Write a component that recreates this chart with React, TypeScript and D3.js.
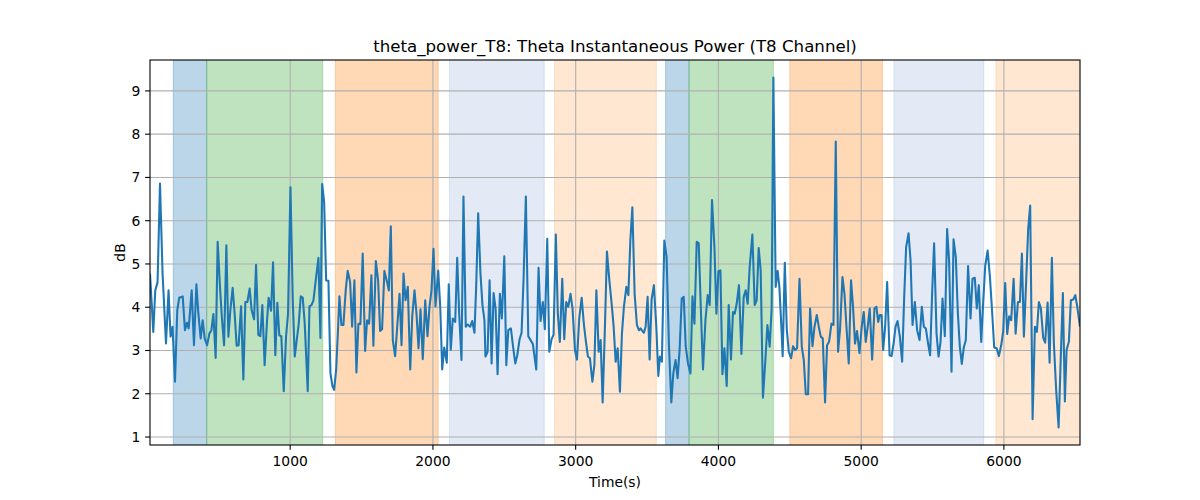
import React from 'react';
import * as d3 from 'd3';

// [time (s), power (dB)]
const samples: [number, number][] = [
  [18,4.78],[41,3.43],[55,4.39],[71,4.58],[88,6.86],[106,4.78],[130,3.16],[148,4.39],[162,3.32],[176,3.55],
  [193,2.28],[209,3.93],[223,4.22],[247,4.25],[263,3.47],[277,3.64],[289,3.51],[310,4.39],[326,3.12],[343,4.53],
  [357,3.85],[373,3.28],[387,3.70],[401,3.28],[418,3.12],[434,3.39],[448,3.47],[462,3.84],[478,2.83],[492,5.51],
  [511,4.31],[523,3.70],[537,3.12],[553,5.43],[567,3.32],[581,3.93],[597,4.45],[611,3.85],[625,3.11],[639,3.12],
  [656,4.02],[672,2.33],[686,4.12],[700,4.12],[716,4.43],[730,3.93],[747,3.72],[761,4.98],[777,3.36],[791,3.33],
  [805,4.05],[821,2.66],[838,3.70],[849,4.22],
  [866,3.92],[880,5.04],[896,2.89],[910,4.10],[924,3.35],[938,3.33],[955,2.06],[971,3.32],[985,3.85],[1002,6.77],
  [1018,4.16],[1032,2.86],[1046,3.24],[1060,3.62],[1074,4.25],[1088,4.22],[1102,3.62],[1123,2.06],[1135,4.02],[1149,4.05],
  [1163,4.16],[1182,4.70],[1198,5.14],[1212,3.29],[1224,6.85],[1238,6.43],[1252,4.62],[1268,4.61],[1282,2.47],[1296,2.18],
  [1308,2.09],[1322,2.55],[1336,3.55],[1345,4.25],[1359,3.59],[1373,3.59],[1389,4.39],[1403,4.84],[1420,4.58],[1434,3.55],
  [1450,4.62],[1464,2.49],[1478,3.62],[1492,3.61],[1508,5.24],[1525,2.99],[1539,3.70],[1553,3.62],[1569,4.74],[1583,3.11],
  [1600,5.07],[1616,4.62],[1630,3.45],[1644,3.49],[1660,4.84],[1679,4.58],[1691,4.39],
  [1705,5.87],[1719,3.24],[1735,2.87],[1750,3.55],[1766,4.31],[1780,3.12],[1794,4.78],[1808,4.16],[1824,4.47],[1841,2.56],
  [1855,3.78],[1871,4.39],[1885,3.85],[1899,3.05],[1913,3.95],[1929,2.80],[1946,4.16],[1962,3.33],[1976,4.01],[1990,4.39],
  [2004,5.35],[2018,4.02],[2037,4.85],[2051,4.02],[2065,2.56],[2079,3.07],[2097,2.72],[2111,4.53],[2125,3.02],[2139,3.74],
  [2156,3.66],[2170,5.14],[2184,3.85],[2200,2.78],[2214,6.56],[2230,3.55],[2244,3.60],[2261,3.55],[2275,3.68],[2291,3.41],
  [2303,4.47],[2317,6.17],[2333,4.78],[2347,4.05],[2361,3.70],[2368,2.86],[2383,2.97],[2397,4.62],[2411,2.70],[2425,4.33],
  [2439,3.97],[2453,2.45],[2469,4.31],[2483,3.74],[2500,5.18],[2514,2.66],[2528,3.47],
  [2546,3.51],[2563,3.05],[2577,2.70],[2591,2.89],[2607,3.26],[2621,3.41],[2635,4.66],[2651,6.56],[2668,3.33],[2684,3.24],
  [2700,3.15],[2724,2.56],[2740,4.91],[2754,3.68],[2770,4.12],[2784,3.49],[2801,5.58],[2815,2.97],[2831,3.26],[2845,3.36],
  [2861,5.68],[2875,3.85],[2889,3.20],[2906,4.66],[2920,3.26],[2934,4.12],[2948,4.01],[2964,4.31],[2978,3.97],[2995,3.01],
  [3009,2.79],[3025,3.74],[3042,4.22],[3058,3.59],[3072,3.20],[3086,2.86],[3100,2.82],[3117,2.28],[3131,2.66],[3145,4.39],
  [3161,2.97],[3175,3.24],[3189,1.80],[3205,3.55],[3219,5.29],[3236,4.62],[3252,4.08],[3266,3.55],[3280,2.74],[3294,3.05],
  [3310,2.05],[3324,3.39],[3338,4.01],[3355,4.47],[3369,4.28],
  [3383,5.54],[3397,6.31],[3413,4.31],[3429,3.59],[3443,3.47],[3455,3.51],[3467,3.45],[3478,3.41],[3490,3.55],[3504,4.24],
  [3518,2.79],[3532,4.18],[3548,4.51],[3565,3.55],[3579,2.41],[3590,2.86],[3604,2.74],[3621,5.54],[3637,5.16],[3653,3.16],
  [3670,1.80],[3684,2.47],[3700,2.78],[3714,2.36],[3728,3.01],[3743,4.20],[3757,4.24],[3771,3.09],[3787,2.70],[3804,2.47],
  [3818,4.25],[3832,3.62],[3848,5.51],[3862,5.48],[3878,3.85],[3892,2.56],[3909,3.70],[3925,4.28],[3939,4.05],[3955,6.48],
  [3972,5.39],[3986,3.85],[4000,4.83],[4014,4.85],[4028,2.45],[4042,3.05],[4058,2.18],[4072,4.05],[4088,2.79],[4102,3.89],
  [4114,3.85],[4128,4.08],[4144,4.51],[4161,2.92],[4177,4.24],[4191,4.39],[4205,4.08],[4219,4.93],
  [4238,5.68],[4254,4.05],[4268,4.16],[4282,5.37],[4296,4.85],[4312,1.91],[4329,2.78],[4343,3.59],[4359,3.09],[4373,3.97],
  [4385,9.31],[4401,4.47],[4415,4.84],[4427,4.47],[4441,3.55],[4450,2.87],[4465,5.03],[4479,3.49],[4493,2.97],[4509,2.82],
  [4523,3.10],[4537,3.01],[4551,3.05],[4568,4.66],[4584,3.09],[4598,2.78],[4612,1.99],[4628,1.99],[4642,3.97],[4659,3.10],
  [4673,3.55],[4689,3.82],[4703,3.55],[4717,3.32],[4731,3.28],[4747,1.80],[4761,3.12],[4775,3.20],[4792,3.62],[4806,3.59],
  [4822,7.83],[4838,2.97],[4852,3.49],[4869,4.70],[4883,4.31],[4897,3.55],[4913,2.70],[4929,4.62],[4943,4.01],[4957,3.16],
  [4971,3.45],[4988,2.94],[5004,3.55],[5018,3.89],[5032,3.20],[5046,3.55],[5060,3.97],
  [5077,2.79],[5093,3.97],[5107,4.01],[5119,3.66],[5131,3.82],[5143,3.82],[5154,3.01],[5168,3.55],[5182,4.58],[5199,2.89],
  [5213,2.87],[5227,3.16],[5241,3.55],[5255,3.68],[5271,3.32],[5287,2.74],[5301,4.20],[5315,5.39],[5332,5.71],[5346,5.08],
  [5360,3.59],[5376,4.12],[5392,3.47],[5409,3.24],[5425,4.01],[5439,3.55],[5453,3.51],[5467,3.20],[5483,2.89],[5497,4.31],
  [5511,5.48],[5528,3.39],[5542,2.86],[5556,3.20],[5570,4.20],[5586,3.33],[5602,5.81],[5616,5.08],[5633,2.51],[5647,5.57],
  [5663,5.16],[5677,3.89],[5691,3.09],[5705,2.69],[5719,3.07],[5733,3.24],[5749,4.95],[5766,3.74],[5780,4.66],[5796,4.68],
  [5810,3.97],[5824,4.51],[5841,3.20],[5855,4.12],[5869,4.96],[5886,5.31],[5902,4.70],
  [5916,3.97],[5932,3.07],[5949,3.05],[5965,2.87],[5981,3.12],[5995,3.45],[6009,4.56],[6023,3.38],[6037,3.79],[6051,3.70],
  [6068,4.66],[6082,3.39],[6098,4.12],[6112,4.12],[6126,5.24],[6140,3.32],[6156,4.62],[6170,5.81],[6184,6.35],[6201,1.41],
  [6217,3.55],[6231,3.43],[6245,4.12],[6259,3.97],[6275,3.30],[6289,3.18],[6306,4.11],[6320,2.72],[6336,5.14],[6350,3.16],
  [6366,2.09],[6383,1.22],[6397,2.70],[6413,4.33],[6427,1.82],[6439,3.01],[6455,3.20],[6469,4.16],[6486,4.18],[6500,4.28],
  [6514,4.01],[6533,3.55],
];

// shaded intervals
const spanStarts = [181, 415, 1317, 2116, 2852, 3630, 3794, 4500, 5229, 5944];
const spanEnds = [415, 1228, 2037, 2780, 3565, 3794, 4385, 5149, 5859, 6600];
const spanKinds = [0, 1, 2, 3, 4, 0, 1, 2, 3, 4];

const xTicks = [1000, 2000, 3000, 4000, 5000, 6000];
const yTicks = [1, 2, 3, 4, 5, 6, 7, 8, 9];
const titleText = 'theta_power_T8: Theta Instantaneous Power (T8 Channel)';
const xLabelText = 'Time(s)';
const yLabelText = 'dB';

const kindStyles = [
  { fill: '#1f77b4', opacity: 0.3 },
  { fill: '#2ca02c', opacity: 0.3 },
  { fill: '#ff7f0e', opacity: 0.3 },
  { fill: '#4472c4', opacity: 0.15 },
  { fill: '#ff7f0e', opacity: 0.19 },
];

export default function App() {
  const W = 1200, H = 500;
  const L = 150, R = 1080, T = 60, B = 445;
  const font = '"DejaVu Sans", sans-serif';
  const ext = d3.extent(samples, (d) => d[0]) as [number, number];
  const x = d3.scaleLinear().domain(ext).range([L, R]);
  const [ymin, ymax] = d3.extent(samples, (d) => d[1]) as [number, number];
  const pad = (ymax - ymin) * 0.05;
  const y = d3.scaleLinear().domain([ymin - pad, ymax + pad]).range([B, T]);
  const line = d3.line<[number, number]>().x((d) => x(d[0])).y((d) => y(d[1]));
  const tickLen = 4.86;

  return (
    <svg width={W} height={H} style={{ position: 'absolute', left: 0, top: 0, background: '#fff' }} fontFamily={font}>
      <defs>
        <clipPath id="plotclip">
          <rect x={L} y={T} width={R - L} height={B - T} />
        </clipPath>
      </defs>
      <rect x={0} y={0} width={W} height={H} fill="#fff" />
      <g clipPath="url(#plotclip)">
        {spanStarts.map((s, i) => {
          const st = kindStyles[spanKinds[i]];
          const x0 = x(s), x1 = x(spanEnds[i]);
          return (
            <rect key={i} x={x0} y={T - 2} width={x1 - x0} height={B - T + 4}
              fill={st.fill} fillOpacity={st.opacity} stroke={st.fill} strokeOpacity={st.opacity} strokeWidth={1} />
          );
        })}
        {xTicks.map((t) => (
          <line key={'gx' + t} x1={x(t)} x2={x(t)} y1={T} y2={B} stroke="#b0b0b0" strokeWidth={1.1} />
        ))}
        {yTicks.map((t) => (
          <line key={'gy' + t} x1={L} x2={R} y1={y(t)} y2={y(t)} stroke="#b0b0b0" strokeWidth={1.1} />
        ))}
        <path d={line(samples) || ''} fill="none" stroke="#1f77b4" strokeWidth={2.08} strokeLinejoin="round" />
      </g>
      <rect x={L} y={T} width={R - L} height={B - T} fill="none" stroke="#000" strokeWidth={1.1} />
      {xTicks.map((t) => (
        <g key={'tx' + t}>
          <line x1={x(t)} x2={x(t)} y1={B} y2={B + tickLen} stroke="#000" strokeWidth={1.1} />
          <text x={x(t)} y={B + 20.5} textAnchor="middle" fontSize={13.89} fill="#000">{t}</text>
        </g>
      ))}
      {yTicks.map((t) => (
        <g key={'ty' + t}>
          <line x1={L - tickLen} x2={L} y1={y(t)} y2={y(t)} stroke="#000" strokeWidth={1.1} />
          <text x={L - 9.7} y={y(t)} dy="0.36em" textAnchor="end" fontSize={13.89} fill="#000">{t}</text>
        </g>
      ))}
      <text x={(L + R) / 2} y={51.7} textAnchor="middle" fontSize={16.67} fill="#000">{titleText}</text>
      <text x={(L + R) / 2} y={486.5} textAnchor="middle" fontSize={13.89} fill="#000">{xLabelText}</text>
      <text transform={`translate(124.5, ${(T + B) / 2}) rotate(-90)`} textAnchor="middle" fontSize={13.89} fill="#000">{yLabelText}</text>
    </svg>
  );
}
